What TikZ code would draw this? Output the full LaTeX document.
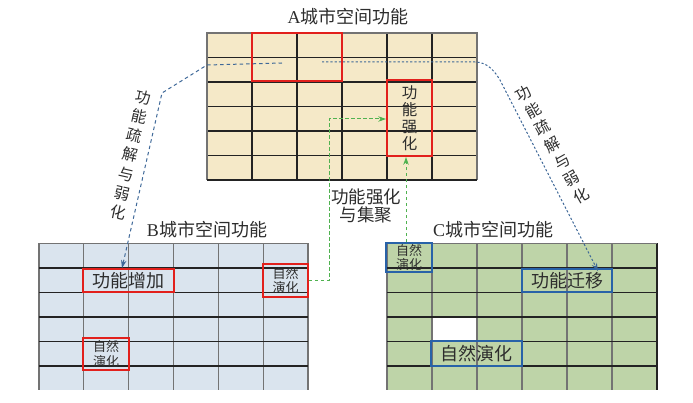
\documentclass[tikz,border=0pt]{standalone}
\usepackage{fontspec}
\newfontfamily\cjk{Noto Sans CJK SC}
\newfontfamily\lser{Liberation Serif}
\usetikzlibrary{arrows.meta,calc}
\definecolor{fillA}{RGB}{245,233,200}
\definecolor{fillB}{RGB}{218,228,238}
\definecolor{fillC}{RGB}{190,212,168}
\definecolor{redbox}{RGB}{226,32,28}
\definecolor{bluebox}{RGB}{40,98,168}
\definecolor{bluedash}{RGB}{62,104,152}
\definecolor{greendash}{RGB}{80,178,80}
\definecolor{txt}{RGB}{45,45,45}
\definecolor{gridgray}{RGB}{115,115,115}
\definecolor{griddark}{RGB}{35,35,35}
\tikzset{
  rbox/.style={draw=redbox, line width=1.8pt, inner sep=0pt, text=txt, align=center},
  bbox/.style={draw=bluebox, line width=1.8pt, inner sep=0pt, text=txt, align=center},
  bigtxt/.style={font=\cjk\fontsize{18}{19}\selectfont},
  smalltxt/.style={font=\cjk\fontsize{13}{14.5}\selectfont},
  titletxt/.style={text=txt, font=\cjk\fontsize{18}{20}\selectfont, inner sep=0pt},
  slabel/.style={text=txt, align=center, inner sep=0pt, font=\cjk\fontsize{15.5}{19.5}\selectfont},
  bluearrow/.style={draw=bluedash, line width=1pt, -{Stealth[length=8pt,width=5.5pt]}},
  greenarrow/.style={draw=greendash, line width=1pt, dashed, dash pattern=on 3.5pt off 2.5pt, -{Stealth[length=8pt,width=5.5pt]}},
  gv/.style={draw=gridgray, line width=1.1pt},
  gh/.style={draw=griddark, line width=1.1pt},
}
\begin{document}
\begin{tikzpicture}[x=1pt,y=-1pt]
\useasboundingbox (0,0) rectangle (693,403);
% ---------- fills
\fill[fillA] (207,33) rectangle (477,180);
\fill[fillB] (39,243.5) rectangle (308,390);
\fill[fillC] (387,243.5) rectangle (657,390);
\fill[white] (432,317) rectangle (477,341.5);
% ---------- grid A
\foreach \i in {1,...,5} \draw[gh] ({207+45*\i},33) -- ({207+45*\i},180);
\foreach \j in {1,...,5} \draw[gh] (207,{33+24.5*\j}) -- (477,{33+24.5*\j});
\draw[gv] (207,180) -- (207,33) -- (477,33) -- (477,180);
\draw[gh] (207,180) -- (477,180);
% ---------- grid B
\foreach \i in {0,...,6} \draw[gv] ({39+44.83*\i},243.5) -- ({39+44.83*\i},390);
\foreach \j in {1,...,5} \draw[gh] (39,{243.5+24.5*\j}) -- (308,{243.5+24.5*\j});
\draw[gv] (39,243.5) -- (308,243.5);
% ---------- grid C
\foreach \i in {0,...,5} \draw[gv] ({387+45*\i},243.5) -- ({387+45*\i},390);
\draw[draw=griddark, line width=1.8pt] (657,243.5) -- (657,390);
\foreach \j in {1,...,5} \draw[gh] (387,{243.5+24.5*\j}) -- (657,{243.5+24.5*\j});
\draw[gv] (387,243.5) -- (657,243.5);
% ---------- titles
\node[titletxt] (tA) at (348,17) {{\lser A}城市空间功能};
\node[titletxt] (tB) at (207,230) {{\lser B}城市空间功能};
\node[titletxt] (tC) at (493,230) {{\lser C}城市空间功能};
% ---------- boxes A
\node[rbox, minimum width=90pt, minimum height=48pt] (a1) at (297,57) {};
\node[rbox, minimum width=45pt, minimum height=76pt, font=\cjk\fontsize{15.5}{17}\selectfont] (a2) at (409.5,118) {功\\能\\强\\化};
% ---------- boxes B
\node[rbox, bigtxt, minimum width=91pt, minimum height=23pt] (bAdd) at (128.5,280.5) {功能增加};
\node[rbox, smalltxt, minimum width=45pt, minimum height=33pt] (bN1) at (285.5,280.5) {自然\\演化};
\node[rbox, smalltxt, minimum width=46pt, minimum height=32pt] (bN2) at (106,354) {自然\\演化};
% ---------- boxes C
\node[bbox, smalltxt, minimum width=46pt, minimum height=29pt] (cN1) at (409,257.5) {自然\\演化};
\node[bbox, bigtxt, minimum width=90pt, minimum height=23pt] (cMig) at (567,280.5) {功能迁移};
\node[bbox, bigtxt, minimum width=91pt, minimum height=25pt] (cN2) at (476.5,353.5) {自然演化};
% ---------- blue dashed connectors
\coordinate (l0) at (282,63);
\coordinate (l1) at (207,65);
\coordinate (l2) at (162,93);
\draw[bluearrow, dashed, dash pattern=on 3.5pt off 3pt] (l0) -- (l1) -- (l2) -- ([xshift=-6.5pt]bAdd.north);
\coordinate (r0) at (322,62);
\coordinate (r1) at (475,62);
\coordinate (r2) at (500,80);
\draw[bluearrow, dash pattern=on 2.2pt off 2pt] (r0) -- (r1) .. controls (488,62) and (495,72) .. (r2) -- ([xshift=31pt,yshift=-3pt]cMig.north);
% ---------- green dashed connectors
\coordinate (g1) at (329,200);
\draw[greenarrow] (bN1.east) -| (g1) |- ([yshift=-1pt]a2.west);
\draw[greenarrow] ([xshift=-3pt]cN1.north) -- ([xshift=-3pt]cN1.north |- a2.south);
% ---------- labels
\node[slabel, rotate=-12.4] (lblL) at (130.5,155) {功\\能\\疏\\解\\与\\弱\\化};
\node[slabel, rotate=29.6] (lblR) at (552.5,145) {功\\能\\疏\\解\\与\\弱\\化};
\node[text=txt, align=center, inner sep=0pt, font=\cjk\fontsize{17.5}{18.5}\selectfont] (lblM) at (366,206) {功能强化\\与集聚};
\end{tikzpicture}
\end{document}
